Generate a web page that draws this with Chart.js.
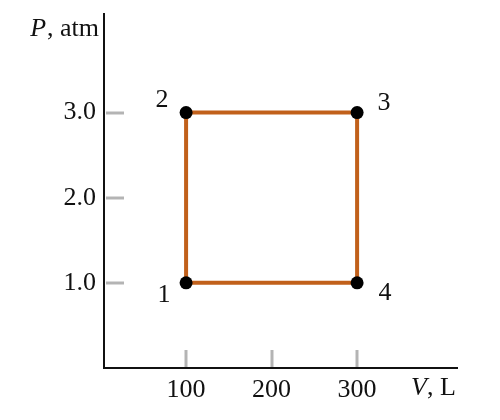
<!DOCTYPE html>
<html>
<head>
<meta charset="utf-8">
<script src="https://cdn.jsdelivr.net/npm/chart.js@4"></script>
<style>
html,body{margin:0;padding:0;background:#fff;}
#wrap{width:500px;height:420px;}
</style>
</head>
<body>
<div id="wrap"><canvas id="c" width="500" height="420"></canvas></div>
<script>
const volumes = [100, 100, 300, 300, 100];
const pressures = [1.0, 3.0, 3.0, 1.0, 1.0];
const stateLabels = ['1', '2', '3', '4'];
const xTicks = [100, 200, 300];
const yTicks = [1.0, 2.0, 3.0];
const xTitle = ['V', ', L'];
const yTitle = ['P', ', atm'];

const FONT = '"Liberation Serif", "DejaVu Serif", serif';
const FS = 26;
const LINE = '#c1601b';
const TICKCOL = '#b4b4b4';

const cyclePts = volumes.map((v, i) => ({x: v, y: pressures[i]}));
const statePts = cyclePts.slice(0, 4);

const overlay = {
  id: 'overlay',
  beforeDatasetsDraw(chart) {
    const {ctx, scales: {x, y}, chartArea: a} = chart;
    ctx.save();
    ctx.strokeStyle = TICKCOL;
    ctx.lineWidth = 3;
    yTicks.forEach(t => {
      const py = Math.round(y.getPixelForValue(t));
      ctx.beginPath(); ctx.moveTo(a.left + 2, py); ctx.lineTo(a.left + 20, py); ctx.stroke();
    });
    xTicks.forEach(t => {
      const px = Math.round(x.getPixelForValue(t));
      ctx.beginPath(); ctx.moveTo(px, a.bottom - 1); ctx.lineTo(px, a.bottom - 18); ctx.stroke();
    });
    ctx.restore();
  },
  afterDraw(chart) {
    const {ctx, scales: {x, y}, chartArea: a} = chart;
    ctx.save();
    ctx.fillStyle = '#111';
    ctx.textBaseline = 'middle';
    ctx.strokeStyle = '#111';
    ctx.lineWidth = 2;
    ctx.beginPath();
    ctx.moveTo(a.left, a.top); ctx.lineTo(a.left, a.bottom); ctx.lineTo(a.right, a.bottom);
    ctx.stroke();
    // y title
    ctx.textAlign = 'left';
    ctx.font = 'italic ' + FS + 'px ' + FONT;
    let w1 = ctx.measureText(yTitle[0]).width;
    ctx.font = FS + 'px ' + FONT;
    let w2 = ctx.measureText(yTitle[1]).width;
    let sx = a.left - 6 - w1 - w2;
    ctx.font = 'italic ' + FS + 'px ' + FONT;
    ctx.fillText(yTitle[0], sx, 29);
    ctx.font = FS + 'px ' + FONT;
    ctx.fillText(yTitle[1], sx + w1 + 1, 29);
    // x title
    const ty = y.getPixelForValue(0) + 20;
    ctx.font = 'italic ' + FS + 'px ' + FONT;
    ctx.fillText(xTitle[0], 411, ty);
    w1 = ctx.measureText(xTitle[0]).width;
    ctx.font = FS + 'px ' + FONT;
    ctx.fillText(xTitle[1], 411 + w1, ty);
    // state labels
    const offs = [[-22, 12], [-24, -12], [27, -9], [28, 10]];
    ctx.textAlign = 'center';
    statePts.forEach((p, i) => {
      ctx.fillText(stateLabels[i], x.getPixelForValue(p.x) + offs[i][0], y.getPixelForValue(p.y) + offs[i][1]);
    });
    ctx.restore();
  }
};

new Chart(document.getElementById('c'), {
  type: 'scatter',
  data: {
    datasets: [
      {
        data: cyclePts,
        showLine: true,
        borderColor: LINE,
        borderWidth: 4,
        pointRadius: 0,
        fill: false,
        tension: 0,
        order: 2
      },
      {
        data: statePts,
        showLine: false,
        pointRadius: 6.5,
        pointBackgroundColor: '#000',
        pointBorderColor: '#000',
        pointBorderWidth: 0,
        order: 1
      }
    ]
  },
  options: {
    responsive: false,
    animation: false,
    devicePixelRatio: 1,
    layout: {padding: {top: 13, right: 42, left: 0, bottom: 0}},
    plugins: {legend: {display: false}, tooltip: {enabled: false}},
    scales: {
      x: {
        type: 'linear',
        min: 4, max: 418,
        border: {display: false},
        grid: {display: false, drawTicks: false},
        afterBuildTicks(s) { s.ticks = xTicks.map(v => ({value: v})); },
        afterFit(s) { s.height = 52; s.paddingLeft = 0; s.paddingRight = 0; },
        ticks: {
          color: '#111',
          padding: 7,
          font: {family: FONT, size: FS},
          callback: v => String(v)
        }
      },
      y: {
        type: 'linear',
        min: 0, max: 4.17,
        border: {display: false},
        grid: {display: false, drawTicks: false},
        afterBuildTicks(s) { s.ticks = yTicks.map(v => ({value: v})); },
        afterFit(s) { s.width = 104; s.paddingTop = 0; s.paddingBottom = 0; },
        ticks: {
          color: '#111',
          padding: 8,
          font: {family: FONT, size: FS},
          callback: v => Number(v).toFixed(1)
        }
      }
    }
  },
  plugins: [overlay]
});
</script>
</body>
</html>
